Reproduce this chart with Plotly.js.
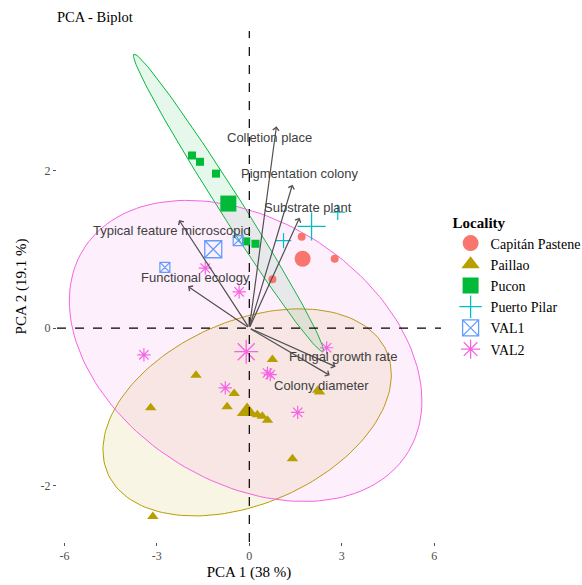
<!DOCTYPE html>
<html>
<head>
<meta charset="utf-8">
<script src="https://cdn.plot.ly/plotly-3.0.1.min.js"></script>
<style>html,body{margin:0;padding:0;background:#fff;}#chart{width:582px;height:585px;}</style>
</head>
<body>
<div id="chart"></div>
<script>
// ---- Data ----
const groups = ["Capitán Pastene", "Paillao", "Pucon", "Puerto Pilar", "VAL1", "VAL2"];
const groupColors = ["#F8766D", "#B79F00", "#00BA38", "#00BFC4", "#619CFF", "#F564E3"];
const groupSymbols = ["circle", "triangle-up", "square", "cross-thin-open", "square-x-open", "asterisk-open"];

const capX = [1.70, 2.77, 0.75];
const capY = [1.16, 0.88, 0.62];
const paiX = [0.75, -1.73, -0.49, -3.20, -0.72, 0.26, 0.42, 0.59, 2.28, 2.22, 1.40, -3.13];
const paiY = [-0.40, -0.60, -0.83, -1.01, -1.00, -1.10, -1.12, -1.17, -0.81, -0.79, -1.66, -2.39];
const pucX = [-1.86, -1.60, -1.08, -0.10, 0.20];
const pucY = [2.19, 2.11, 1.96, 1.10, 1.07];
const ppX = [2.87, 1.11];
const ppY = [1.47, 1.11];
const v1X = [-0.36, -2.74];
const v1Y = [1.11, 0.77];
const v2X = [-1.43, -0.33, -3.42, 2.51, 0.59, 0.68, -0.78, 1.57];
const v2Y = [0.76, 0.46, -0.34, -0.25, -0.57, -0.59, -0.76, -1.07];

const meanX = [1.73, -0.07, -0.68, 2.02, -1.17, -0.10];
const meanY = [0.88, -1.06, 1.58, 1.29, 1.00, -0.30];

// concentration ellipses: center, spread in x, spread in y, correlation
const ellGroup = ["Paillao", "Pucon", "VAL2"];
const ellCx = [-0.07, -0.68, -0.12];
const ellCy = [-1.07, 1.59, -0.29];
const ellSx = [4.679, 3.081, 5.72];
const ellSy = [1.314, 1.887, 1.911];
const ellR = [0.364, -0.990, -0.332];

// variable loadings (arrow tips) and label positions
const varNames = ["Colletion place", "Pigmentation colony", "Substrate plant", "Typical feature microscopio", "Functional ecology", "Fungal growth rate", "Colony diameter"];
const varX = [0.88, 1.40, 1.63, -2.28, -1.99, 2.80, 2.61];
const varY = [2.56, 1.82, 1.40, 1.37, 0.53, -0.49, -0.60];
const labX = [0.65, 1.66, 1.89, -2.51, -1.76, 3.03, 2.35];
const labY = [2.42, 1.96, 1.53, 1.24, 0.64, -0.36, -0.73];

const xTicks = [-6, -3, 0, 3, 6];
const yTicks = [-2, 0, 2];

// ---- Build ----
const ptsX = [capX, paiX, pucX, ppX, v1X, v2X];
const ptsY = [capY, paiY, pucY, ppY, v1Y, v2Y];
const smallSize = [8, 10, 8, 11, 10, 11];
const bigSize = [16, 18, 16, 20, 17, 20];

function rgba(hex, a) {
  const r = parseInt(hex.slice(1, 3), 16), g = parseInt(hex.slice(3, 5), 16), b = parseInt(hex.slice(5, 7), 16);
  return `rgba(${r},${g},${b},${a})`;
}

const traces = [];
ellGroup.forEach((g, i) => {
  const gi = groups.indexOf(g);
  const xs = [], ys = [];
  const n = 160;
  for (let k = 0; k <= n; k++) {
    const t = 2 * Math.PI * k / n;
    xs.push(ellCx[i] + ellSx[i] * Math.cos(t));
    ys.push(ellCy[i] + ellSy[i] * (ellR[i] * Math.cos(t) + Math.sqrt(1 - ellR[i] * ellR[i]) * Math.sin(t)));
  }
  traces.push({
    type: "scatter", mode: "lines", x: xs, y: ys, fill: "toself",
    fillcolor: rgba(groupColors[gi], 0.1),
    line: { color: groupColors[gi], width: 1 },
    hoverinfo: "skip", showlegend: false
  });
});

groups.forEach((g, i) => {
  const isOpen = groupSymbols[i].indexOf("open") >= 0;
  traces.push({
    type: "scatter", mode: "markers", x: ptsX[i], y: ptsY[i], name: g,
    legendgroup: g, showlegend: false,
    marker: { symbol: groupSymbols[i], size: smallSize[i], color: groupColors[i],
      line: { color: groupColors[i], width: isOpen ? 1.2 : 0 } }
  });
});
groups.forEach((g, i) => {
  const isOpen = groupSymbols[i].indexOf("open") >= 0;
  traces.push({
    type: "scatter", mode: "markers", x: [meanX[i]], y: [meanY[i]], name: g,
    legendgroup: g, showlegend: true,
    marker: { symbol: groupSymbols[i], size: bigSize[i], color: groupColors[i],
      line: { color: groupColors[i], width: isOpen ? 1.3 : 0 } }
  });
});

const annotations = [];
varNames.forEach((v, i) => {
  annotations.push({
    x: varX[i], y: varY[i], ax: 0, ay: 0, axref: "x", ayref: "y", xref: "x", yref: "y",
    text: "", showarrow: true, arrowhead: 4, arrowsize: 1, arrowwidth: 1.2, arrowcolor: "#505050",
    standoff: 0, startstandoff: 0
  });
  annotations.push({
    x: labX[i], y: labY[i], xref: "x", yref: "y", text: v, showarrow: false,
    font: { family: "Liberation Sans, Arial, sans-serif", size: 13, color: "#404040" },
    xanchor: "center", yanchor: "middle"
  });
});

const serif = "Liberation Serif, Times New Roman, serif";
const layout = {
  width: 582, height: 585,
  margin: { l: 57, r: 141, t: 31, b: 43, autoexpand: false },
  paper_bgcolor: "#ffffff", plot_bgcolor: "#ffffff",
  title: { text: "PCA - Biplot", x: 0, xref: "paper", xanchor: "left", y: 0.971, yref: "container", yanchor: "middle",
    font: { family: serif, size: 14.5, color: "#000" } },
  xaxis: {
    range: [-6.24, 6.22], tickvals: xTicks, ticktext: xTicks.map(String),
    showgrid: false, zeroline: false, showline: false,
    ticks: "outside", ticklen: 3, tickwidth: 1, tickcolor: "#555",
    tickfont: { family: serif, size: 12, color: "#4d4d4d" },
    title: { text: "PCA 1 (38 %)", font: { family: serif, size: 15, color: "#000" }, standoff: 4 }
  },
  yaxis: {
    range: [-2.715, 3.77], tickvals: yTicks, ticktext: yTicks.map(String),
    showgrid: false, zeroline: false, showline: false,
    ticks: "outside", ticklen: 3, tickwidth: 1, tickcolor: "#555",
    tickfont: { family: serif, size: 12, color: "#4d4d4d" },
    title: { text: "PCA 2 (19.1 %)", font: { family: serif, size: 15, color: "#000" }, standoff: 10 }
  },
  shapes: [
    { type: "line", xref: "x", yref: "paper", x0: 0, x1: 0, y0: 0, y1: 1, line: { color: "#000", width: 1.2, dash: "dash" }, layer: "above" },
    { type: "line", xref: "paper", yref: "y", x0: 0, x1: 1, y0: 0, y1: 0, line: { color: "#000", width: 1.2, dash: "dash" }, layer: "above" }
  ],
  annotations: annotations,
  legend: {
    x: 1.025, xanchor: "left", y: 0.5, yanchor: "middle",
    title: { text: "<b>Locality</b>", font: { family: serif, size: 15, color: "#000" } },
    font: { family: serif, size: 14, color: "#000" },
    bgcolor: "rgba(0,0,0,0)", tracegroupgap: 0
  }
};

Plotly.newPlot("chart", traces, layout, { staticPlot: true, displayModeBar: false });
</script>
</body>
</html>
